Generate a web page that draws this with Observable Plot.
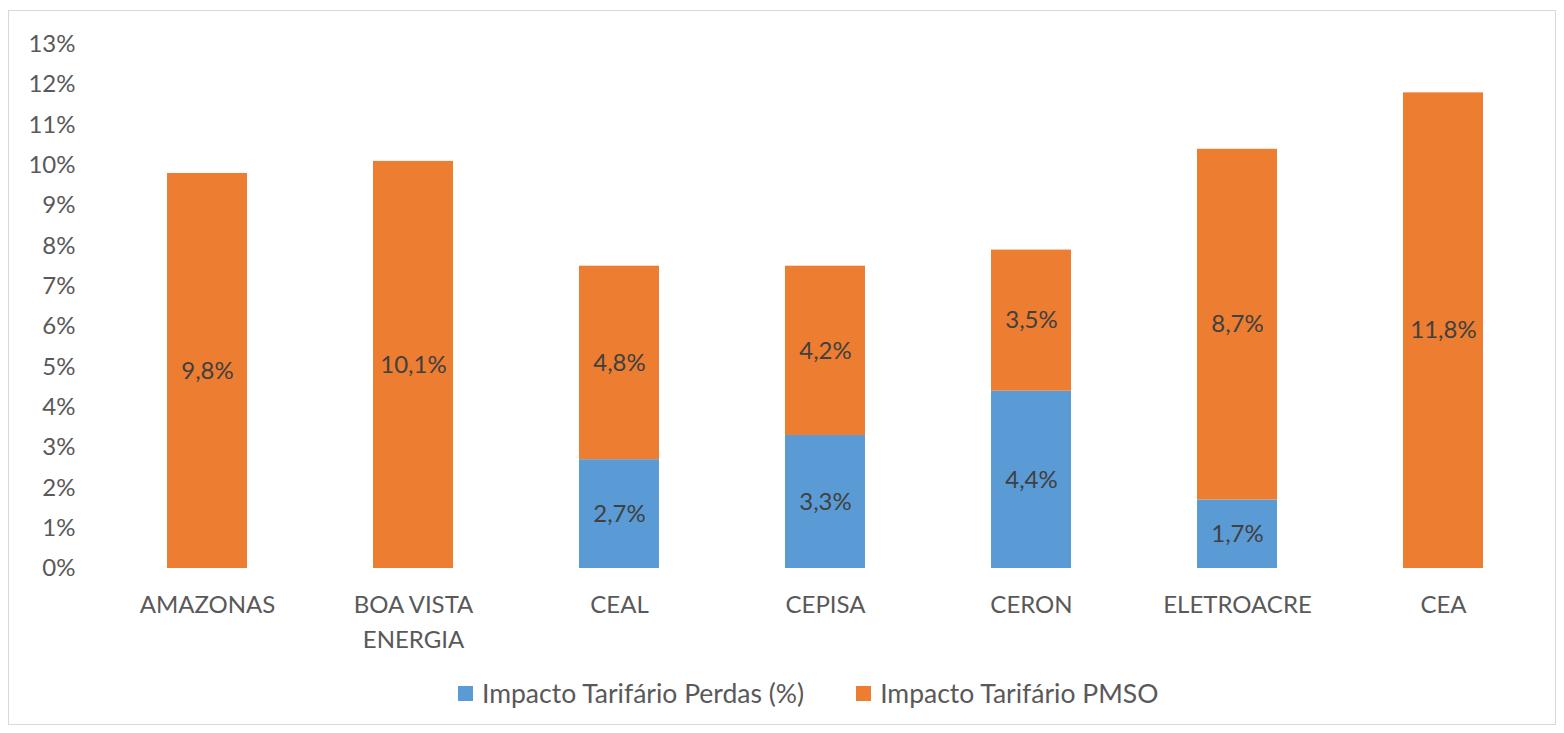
<!DOCTYPE html>
<html>
<head>
<meta charset="utf-8">
<script src="https://cdn.jsdelivr.net/npm/d3@7"></script>
<script src="https://cdn.jsdelivr.net/npm/@observablehq/plot@0.6"></script>
<style>
  html, body { margin: 0; padding: 0; background: #fff; }
  #wrap { position: relative; width: 1564px; height: 733px; font-family: Lato, "Open Sans", sans-serif; overflow: hidden; }
  #frame { position: absolute; left: 8px; top: 10px; width: 1548px; height: 715px; border: 1px solid #d9d9d9; box-sizing: border-box; }
  #chart { position: absolute; left: 0; top: 0; }
  #legend { position: absolute; left: 458px; top: 677px; display: flex; align-items: center; gap: 52px; font-size: 26.5px; color: #595959; white-space: nowrap; }
  .item { display: flex; align-items: center; gap: 9px; }
  .sw { width: 15px; height: 15px; display: inline-block; }
</style>
</head>
<body>
<div id="wrap">
  <div id="frame"></div>
  <div id="chart"></div>
  <div id="legend"></div>
</div>
<script>
const categories = ["AMAZONAS", "BOA VISTA\nENERGIA", "CEAL", "CEPISA", "CERON", "ELETROACRE", "CEA"];
const seriesNames = ["Impacto Tarifário Perdas (%)", "Impacto Tarifário PMSO"];
const perdas = [0, 0, 2.7, 3.3, 4.4, 1.7, 0];
const pmso = [9.8, 10.1, 4.8, 4.2, 3.5, 8.7, 11.8];
const colors = ["#5B9BD5", "#ED7D31"];
const yTicks = [0,1,2,3,4,5,6,7,8,9,10,11,12,13];

const rows = [];
categories.forEach((c, i) => {
  if (perdas[i] > 0) rows.push({cat: c, series: seriesNames[0], value: perdas[i]});
  if (pmso[i] > 0) rows.push({cat: c, series: seriesNames[1], value: pmso[i]});
});
const fmt = v => v.toFixed(1).replace(".", ",") + "%";

const chart = Plot.plot({
  width: 1564,
  height: 660,
  marginLeft: 101,
  marginRight: 14,
  marginTop: 44,
  marginBottom: 92,
  style: {fontFamily: "Lato, 'Open Sans', sans-serif", fontSize: "24px", color: "#595959", background: "transparent", overflow: "visible"},
  x: {domain: categories, paddingInner: 0.61, paddingOuter: 0.31, label: null},
  y: {domain: [0, 13], label: null},
  color: {domain: seriesNames, range: colors},
  marks: [
    Plot.ruleY(yTicks, {y: d => d, x1: 101, x2: 1553, stroke: "#d9d9d9", strokeWidth: 1.5}),
    Plot.barY(rows, {x: "cat", y: "value", fill: "series"}),
    Plot.text(rows, Plot.stackY({x: "cat", y: "value", text: d => fmt(d.value), fill: "#404040", fontSize: 24})),
    Plot.axisX({tickSize: 0, tickPadding: 20, fontSize: 24, lineHeight: 1.45, fill: "#595959"}),
    Plot.axisY({ticks: yTicks, tickFormat: d => d + "%", tickSize: 0, tickPadding: 26, fontSize: 24, fill: "#595959"})
  ]
});
document.getElementById("chart").appendChild(chart);

const legend = document.getElementById("legend");
seriesNames.forEach((s, i) => {
  const it = document.createElement("div");
  it.className = "item";
  const sw = document.createElement("span");
  sw.className = "sw";
  sw.style.background = colors[i];
  const t = document.createElement("span");
  t.textContent = s;
  it.appendChild(sw); it.appendChild(t);
  legend.appendChild(it);
});
</script>
</body>
</html>
